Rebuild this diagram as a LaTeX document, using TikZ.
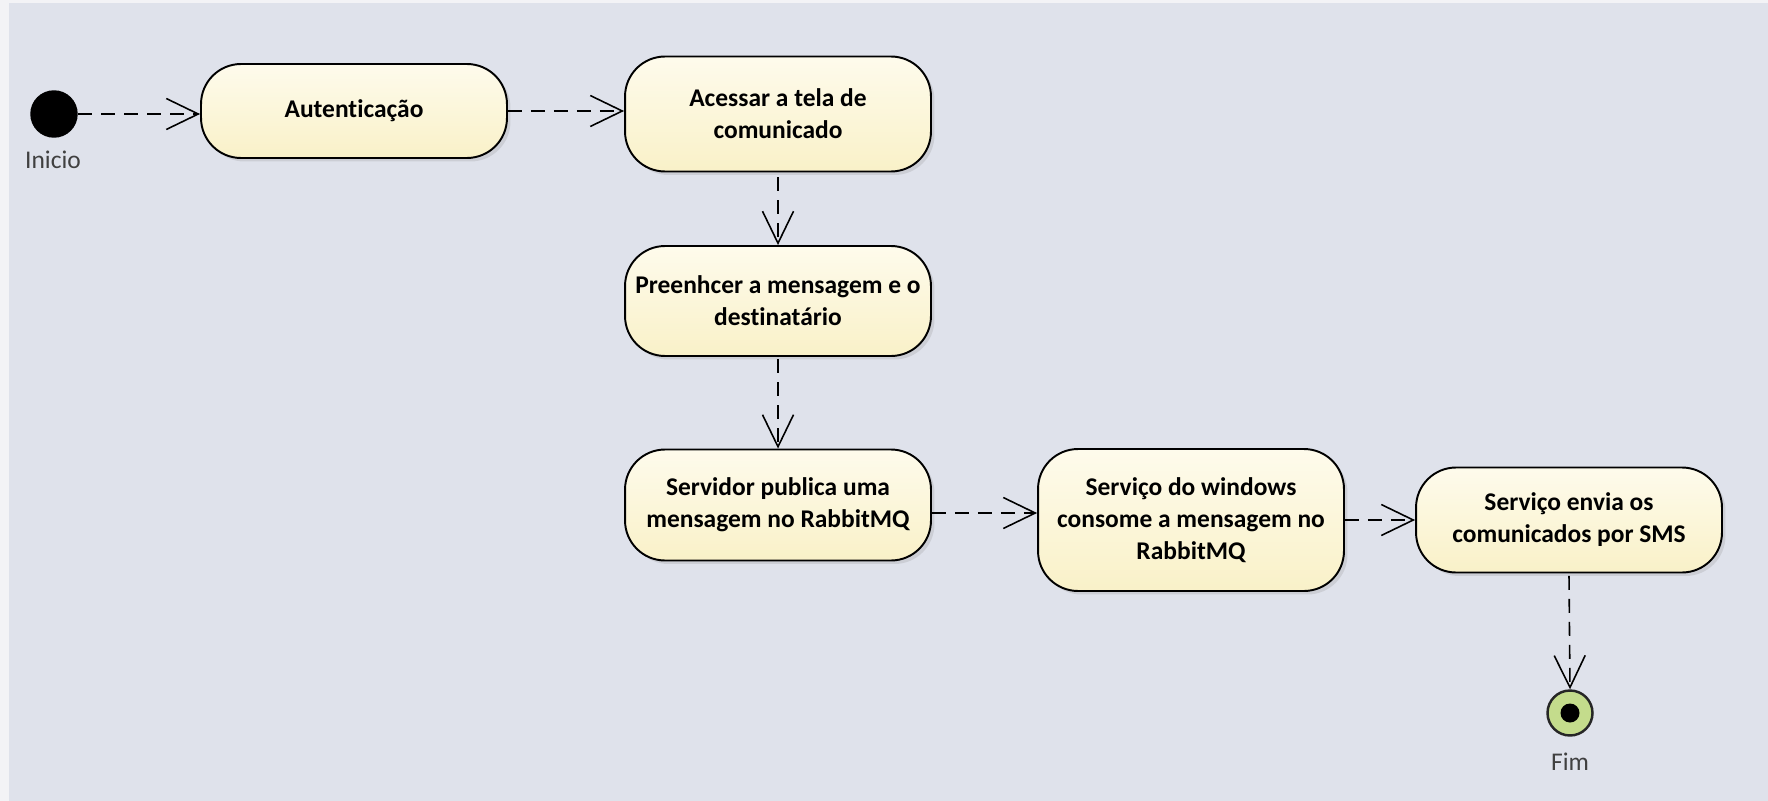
\documentclass[tikz,border=0pt]{standalone}
\usepackage{fontspec}
\setmainfont{Carlito}[Ligatures={NoCommon,NoContextual}]
\usetikzlibrary{arrows.meta,shadows}

\definecolor{fundo}{RGB}{223,226,235}
\definecolor{margem}{RGB}{243,243,246}
\definecolor{caixa}{RGB}{249,241,200}
\definecolor{caixaclara}{RGB}{254,251,236}
\definecolor{verdefim}{RGB}{196,220,140}

\tikzset{
  atividade/.style={draw=black, line width=1.1pt, rounded corners=0.8cm,
    top color=caixaclara, bottom color=caixa, minimum width=6.12cm,
    align=center, font=\fontsize{14.5}{18.2}\selectfont\bfseries,
    drop shadow={opacity=0.2, shadow xshift=0.07cm, shadow yshift=-0.07cm}},
  fluxo/.style={line width=0.9pt, dash pattern=on 0.28cm off 0.18cm,
    -{Straight Barb[length=0.64cm,width=0.62cm]}},
  rotulo/.style={font=\fontsize{14.5}{17}\selectfont, text=black!75}
}

\begin{document}
\begin{tikzpicture}[x=0.02cm,y=-0.02cm]

    \useasboundingbox (0,0) rectangle (1768,801);
    \fill[margem] (0,0) rectangle (1768,801);
    \fill[fundo] (9,3) rectangle (1768,801);

    % inicio
    \node[circle, fill=black, minimum size=0.95cm, inner sep=0] (inicio) at (54,114) {};
    \node[rotulo] (lblinicio) at (53,160) {Inicio};

    % atividades
    \node[atividade, minimum height=1.88cm] (autent) at (354,111) {Autent\kern0pt icação};
    \node[atividade, minimum height=2.3cm] (acessar) at (778,114) {Acessar a tela de\\comunicado};
    \node[atividade, minimum height=2.2cm] (preench) at (778,301) {Preenhcer a mensagem e o\\dest\kern0pt inatário};
    \node[atividade, minimum height=2.22cm] (servidor) at (778,505) {Servidor publica uma\\mensagem no RabbitMQ};
    \node[atividade, minimum height=2.84cm] (windows) at (1191,520) {Serviço do windows\\consome a mensagem no\\RabbitMQ};
    \node[atividade, minimum height=2.1cm] (envia) at (1569,520) {Serviço envia os\\comunicados por SMS};

    % fim
    \node[circle, draw=black!85, line width=1.4pt, fill=verdefim, minimum size=0.9cm, inner sep=0] (fim) at (1570,713) {};
    \node[circle, fill=black, minimum size=0.38cm, inner sep=0] (fimponto) at (fim) {};
    \node[rotulo] (lblfim) at (1570,762) {Fim};

    % fluxos
    \draw[fluxo] (inicio.east) -- (inicio.east -| autent.west);
    \draw[fluxo] (autent.east) -- (autent.east -| acessar.west);
    \draw[fluxo] ([yshift=-0.1cm]acessar.south) -- (preench.north);
    \draw[fluxo] ([yshift=-0.05cm]preench.south) -- (servidor.north);
    \draw[fluxo] ([yshift=-0.16cm]servidor.east) -- ([yshift=-0.16cm]servidor.east -| windows.west);
    \draw[fluxo] (windows.east) -- (windows.east -| envia.west);
    \draw[fluxo] ([yshift=-0.05cm]envia.south) -- (fim.north);

\end{tikzpicture}
\end{document}
